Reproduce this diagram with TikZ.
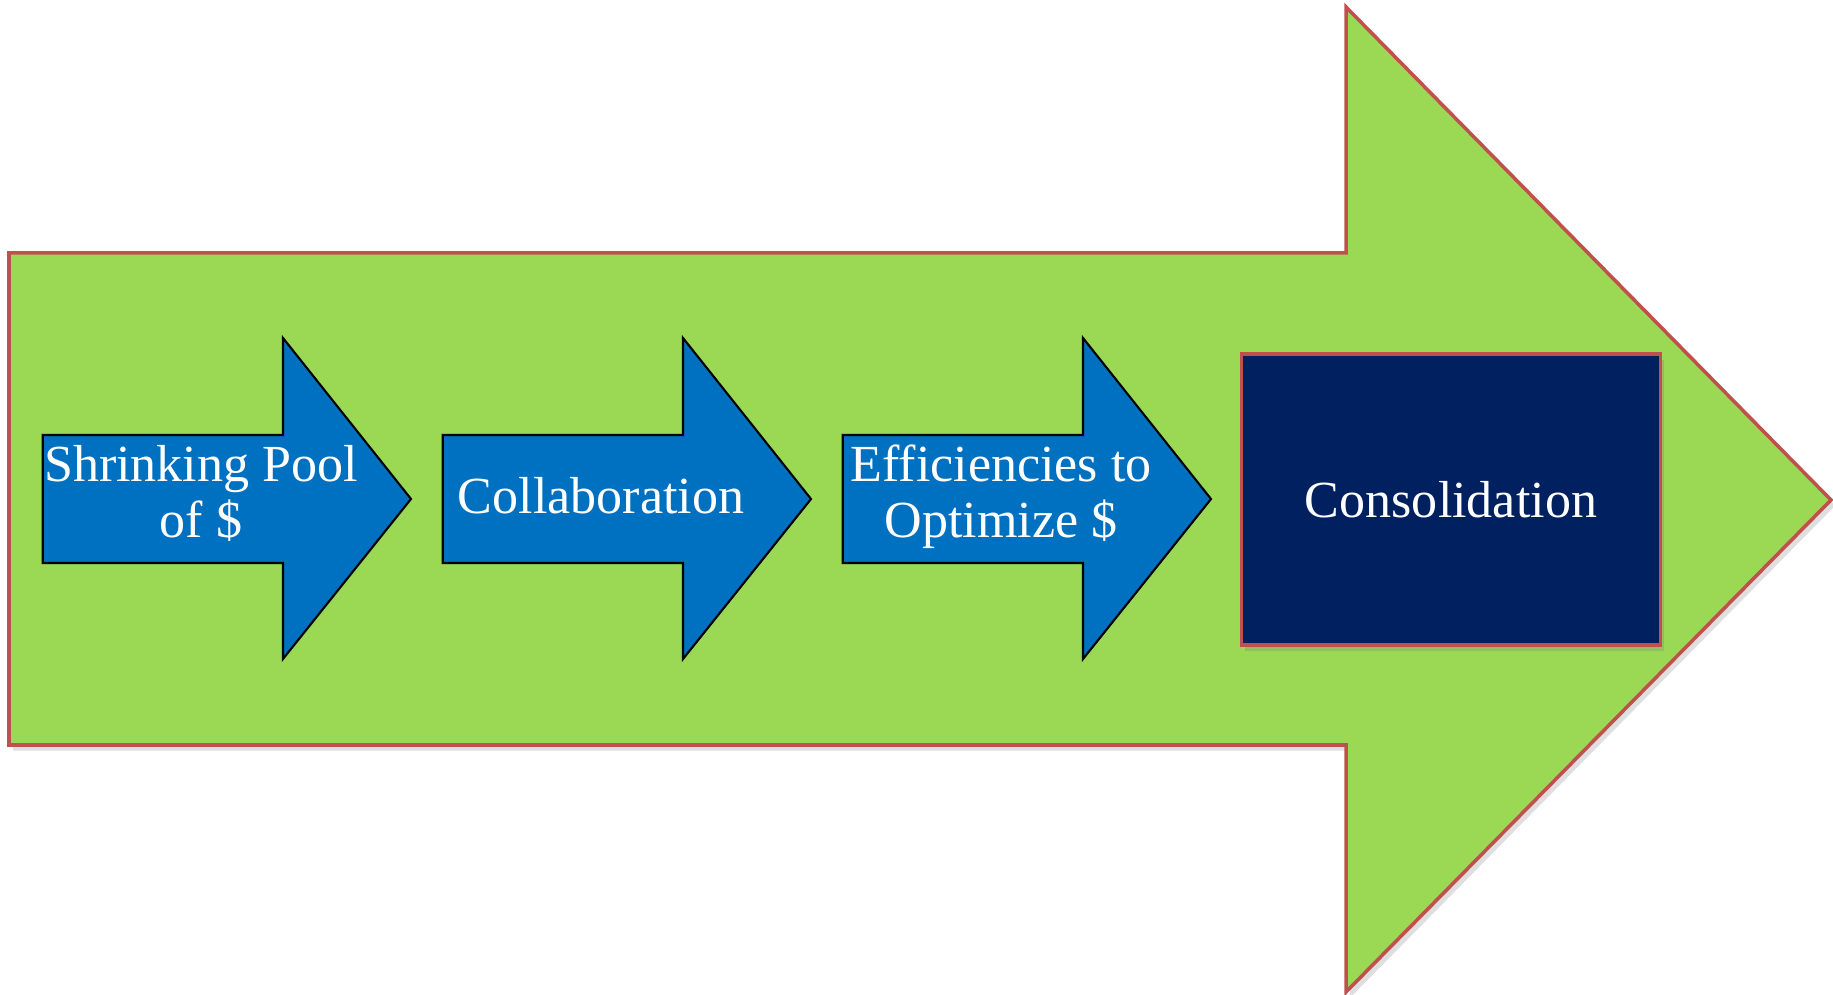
\documentclass[tikz,border=0pt]{standalone}
\usepackage{fontspec}
\setmainfont{Liberation Serif}
\usetikzlibrary{shadows}

\definecolor{flowgreen}{RGB}{155,217,84}
\definecolor{edgered}{RGB}{192,80,77}
\definecolor{stageblue}{RGB}{0,112,192}
\definecolor{endnavy}{RGB}{0,32,96}

\begin{document}
\begin{tikzpicture}[x=0.01cm,y=-0.01cm,
  bigarrow/.style={fill=flowgreen, draw=edgered, line width=1pt, line join=miter,
    drop shadow={opacity=0.25, shadow xshift=1.2pt, shadow yshift=-1.6pt}},
  stagearrow/.style={fill=stageblue, draw=black, line width=0.6pt, line join=miter},
  stagetext/.style={text=white, font=\fontsize{14.8}{15.93}\selectfont,
    align=center, inner sep=0pt, anchor=base},
  endbox/.style={fill=endnavy, draw=edgered, line width=1pt,
    minimum width=4.19cm, minimum height=2.91cm, inner sep=0pt,
    text=white, font=\fontsize{14.8}{15.93}\selectfont,
    drop shadow={opacity=0.3, shadow xshift=1pt, shadow yshift=-1.6pt}}]

  \useasboundingbox (0,0) rectangle (1833,995);

  % large background arrow
  \path[bigarrow] (9,253) -- (1346,253) -- (1346,7) -- (1831,500)
    -- (1346,992) -- (1346,745) -- (9,745) -- cycle;

  % three stage arrows, 400 units apart
  \foreach \dx in {0,400,800} {
    \path[stagearrow] (42.7+\dx,435) -- (283+\dx,435) -- (283+\dx,338)
      -- (411+\dx,499) -- (283+\dx,659) -- (283+\dx,563) -- (42.7+\dx,563) -- cycle;
  }

  % stage labels (base anchor sits on the last line)
  \node[stagetext] (pool)   at (201,538)  {Shrinking Pool\\of \$};
  \node[stagetext] (collab) at (601,514)  {Collaboration};
  \node[stagetext] (effic)  at (1001,538) {Efficiencies to\\Optimize \$};

  % final stage
  \node[endbox] (consol) at (1451,499.5) {Consolidation};
\end{tikzpicture}
\end{document}
